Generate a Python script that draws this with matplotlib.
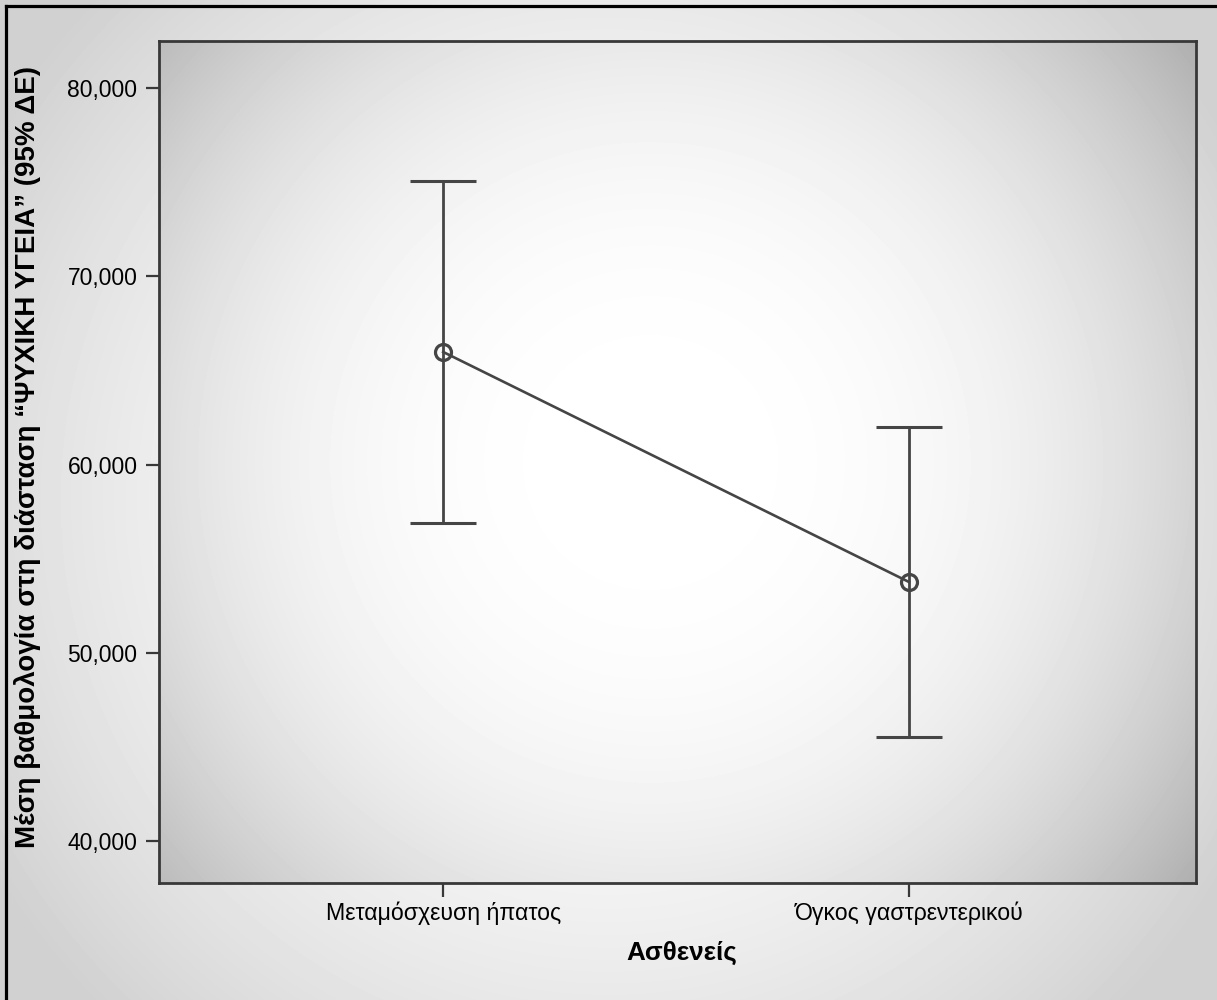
import numpy as np
import matplotlib
matplotlib.use("Agg")
import matplotlib.pyplot as plt
from matplotlib.lines import Line2D
from matplotlib.ticker import FuncFormatter

# group means with 95% confidence limits
groups = ['Μεταμόσχευση ήπατος', 'Όγκος γαστρεντερικού']
means = [65.98, 53.76]
ci_low = [56.89, 45.53]
ci_high = [75.06, 61.99]
y_ticks = [40, 50, 60, 70, 80]

plt.rcParams['font.family'] = ['Liberation Sans', 'DejaVu Sans']

LINE = '#454545'
SPINE = '#383838'


def radial(w, h, cx, cy, radius, k, p, floor=0.0):
    # grey level falling off with pixel distance from (cx, cy)
    xx, yy = np.meshgrid(np.arange(w), np.arange(h))
    r = np.hypot(xx - cx, yy - cy) / radius
    return np.clip(1 - k * r ** p, floor, 1)


fig = plt.figure(figsize=(12.17, 10), dpi=100)

# soft grey backdrop for the whole figure
bg = fig.add_axes([0, 0, 1, 1], zorder=-10)
bg.imshow(radial(1217, 1000, 608, 500, 608, 0.13, 2, 0.82), cmap='gray',
          vmin=0, vmax=1, aspect='auto', extent=[0, 1, 0, 1])
bg.set_axis_off()

ax = fig.add_axes([159 / 1217, 1 - 883 / 1000, 1037 / 1217, 842 / 1000])
ax.imshow(radial(1037, 842, 491, 421, 518, 0.15, 2.6), cmap='gray',
          vmin=0, vmax=1, aspect='auto', extent=[0, 1, 0, 1],
          transform=ax.transAxes, zorder=0)

x = np.arange(len(groups))
yerr = [np.array(means) - np.array(ci_low), np.array(ci_high) - np.array(means)]
ax.errorbar(x, means, yerr=yerr, fmt='none', ecolor=LINE, elinewidth=2.0,
            capsize=23.5, capthick=2.2, zorder=3)
ax.plot(x, means, color=LINE, lw=1.9, zorder=4)
ax.plot(x, means, 'o', ms=11.5, mfc='none', mec=LINE, mew=2.3, zorder=5)

ax.set_xlim(-0.61, 1.616)
ax.set_ylim(37.77, 82.5)
ax.set_xticks(x)
ax.set_xticklabels(groups, fontsize=16.7)
ax.set_yticks(y_ticks)
ax.yaxis.set_major_formatter(FuncFormatter(lambda v, p: f"{v:.3f}".replace('.', ',')))
ax.tick_params(axis='y', labelsize=16.5, length=9.5, width=1.6, color=SPINE, pad=6)
ax.tick_params(axis='x', length=10, width=1.6, color=SPINE, pad=3)
for s in ax.spines.values():
    s.set_color(SPINE)
    s.set_linewidth(2.0)

fig.text(28 / 1217, 1 - 457 / 1000,
         'Μέση βαθμολογία στη διάσταση “ΨΥΧΙΚΗ ΥΓΕΙΑ” (95% ΔΕ)',
         rotation=90, ha='center', va='center', fontsize=20, fontweight='bold')
fig.text(682 / 1217, 1 - 953 / 1000, 'Ασθενείς', ha='center', va='center',
         fontsize=18.8, fontweight='bold')

# black frame along the top and left edges
fig.add_artist(Line2D([6 / 1217, 1], [1 - 6 / 1000, 1 - 6 / 1000], color='black', lw=2.3))
fig.add_artist(Line2D([6 / 1217, 6 / 1217], [0, 1 - 6 / 1000], color='black', lw=2.3))

fig.savefig('out.png', dpi=100)
